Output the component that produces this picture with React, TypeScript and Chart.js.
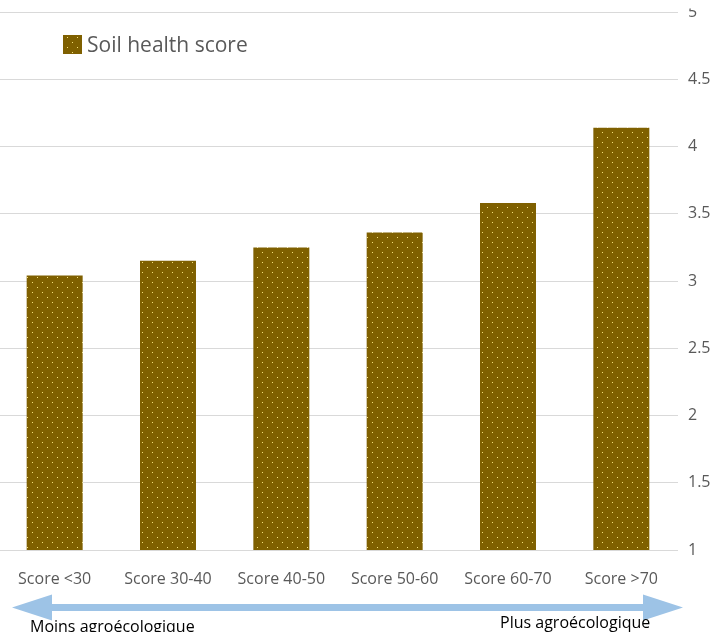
import React, { useEffect, useRef } from "react";
import { Chart, registerables } from "chart.js";

Chart.register(...registerables);

// Chart data
const categories = ["Score <30", "Score 30-40", "Score 40-50", "Score 50-60", "Score 60-70", "Score >70"];
const soilHealth = [3.04, 3.15, 3.25, 3.36, 3.58, 4.14];
const seriesName = "Soil health score";
const yTicks = [1, 1.5, 2, 2.5, 3, 3.5, 4, 4.5, 5];
const leftNote = "Moins agroécologique";
const rightNote = "Plus agroécologique";

const FONT = "'Open Sans', 'DejaVu Sans', sans-serif";
const GREY_TEXT = "#595959";
const GRID = "#D9D9D9";
const BAR_FILL = "#7F6000";
const DOT = "#F5E17A";
const ARROW = "#9DC3E6";

// canvas is shifted left so the plot runs to the page edge
const SHIFT = 20;
const W = 736;
const H = 632;

function dottedFill(ctx: CanvasRenderingContext2D): CanvasPattern | string {
  const tile = document.createElement("canvas");
  tile.width = 10;
  tile.height = 10;
  const t = tile.getContext("2d");
  if (!t) return BAR_FILL;
  t.fillStyle = BAR_FILL;
  t.fillRect(0, 0, 10, 10);
  t.fillStyle = DOT;
  t.fillRect(2, 2, 1, 1);
  t.fillRect(7, 7, 1, 1);
  return ctx.createPattern(tile, "repeat") || BAR_FILL;
}

const decorations = {
  id: "decorations",
  afterDraw(chart: Chart) {
    const ctx = chart.ctx;
    const fill = dottedFill(ctx);
    ctx.save();

    // top of the upper axis label runs off the frame
    ctx.fillStyle = "#ffffff";
    ctx.fillRect(684 + SHIFT, 0, 40, 8.5);

    // legend inside the plot
    ctx.fillStyle = fill;
    ctx.fillRect(63 + SHIFT, 35, 19, 19);
    ctx.fillStyle = GREY_TEXT;
    ctx.font = `21px ${FONT}`;
    ctx.textBaseline = "middle";
    ctx.textAlign = "left";
    ctx.fillText(seriesName, 87 + SHIFT, 46);

    // double-headed arrow under the categories
    const y = 607.5;
    const half = 3.5;
    const head = 13;
    const x0 = 12 + SHIFT;
    const x1 = 683 + SHIFT;
    const b0 = 52 + SHIFT;
    const b1 = 643 + SHIFT;
    ctx.fillStyle = ARROW;
    ctx.beginPath();
    ctx.moveTo(x0, y);
    ctx.lineTo(b0, y - head);
    ctx.lineTo(b0, y - half);
    ctx.lineTo(b1, y - half);
    ctx.lineTo(b1, y - head);
    ctx.lineTo(x1, y);
    ctx.lineTo(b1, y + head);
    ctx.lineTo(b1, y + half);
    ctx.lineTo(b0, y + half);
    ctx.lineTo(b0, y + head);
    ctx.closePath();
    ctx.fill();

    ctx.fillStyle = "#000000";
    ctx.font = `16px ${FONT}`;
    ctx.textBaseline = "alphabetic";
    ctx.fillText(leftNote, 30 + SHIFT, 631.5);
    ctx.fillText(rightNote, 500 + SHIFT, 628);
    ctx.restore();
  },
};

export default function App() {
  const canvasRef = useRef<HTMLCanvasElement | null>(null);

  useEffect(() => {
    const canvas = canvasRef.current;
    if (!canvas) return;
    const ctx = canvas.getContext("2d");
    if (!ctx) return;
    const chart = new Chart(canvas, {
      type: "bar",
      data: {
        labels: categories,
        datasets: [
          {
            label: seriesName,
            data: soilHealth,
            backgroundColor: dottedFill(ctx),
            borderWidth: 0,
            categoryPercentage: 1,
            barPercentage: 0.494,
          },
        ],
      },
      options: {
        responsive: false,
        animation: false,
        devicePixelRatio: 1,
        layout: { padding: { left: 18, top: 12, right: 0, bottom: 0 } },
        plugins: {
          legend: { display: false },
          tooltip: { enabled: false },
        },
        scales: {
          x: {
            grid: { display: false },
            border: { display: false },
            ticks: {
              color: GREY_TEXT,
              font: { family: FONT, size: 16 },
              padding: 12,
              maxRotation: 0,
              autoSkip: false,
            },
            afterFit(scale: any) {
              scale.height = H - 550;
              scale.paddingLeft = 0;
              scale.paddingRight = 0;
            },
          },
          y: {
            position: "right",
            min: 1,
            max: 5,
            grid: { color: GRID, lineWidth: 1, drawTicks: false },
            border: { display: false },
            ticks: {
              color: GREY_TEXT,
              font: { family: FONT, size: 16 },
              padding: 10,
              callback: (v: any) => String(v),
            },
            afterBuildTicks(scale: any) {
              scale.ticks = yTicks.map((v) => ({ value: v }));
            },
            afterFit(scale: any) {
              scale.width = 38;
              scale.paddingTop = 0;
              scale.paddingBottom = 0;
            },
          },
        },
      },
      plugins: [decorations],
    });
    return () => chart.destroy();
  }, []);

  return (
    <div
      style={{
        position: "fixed",
        left: -SHIFT,
        top: 0,
        width: W,
        height: H,
        background: "#ffffff",
        overflow: "hidden",
      }}
    >
      <canvas ref={canvasRef} width={W} height={H} style={{ display: "block" }} />
    </div>
  );
}
